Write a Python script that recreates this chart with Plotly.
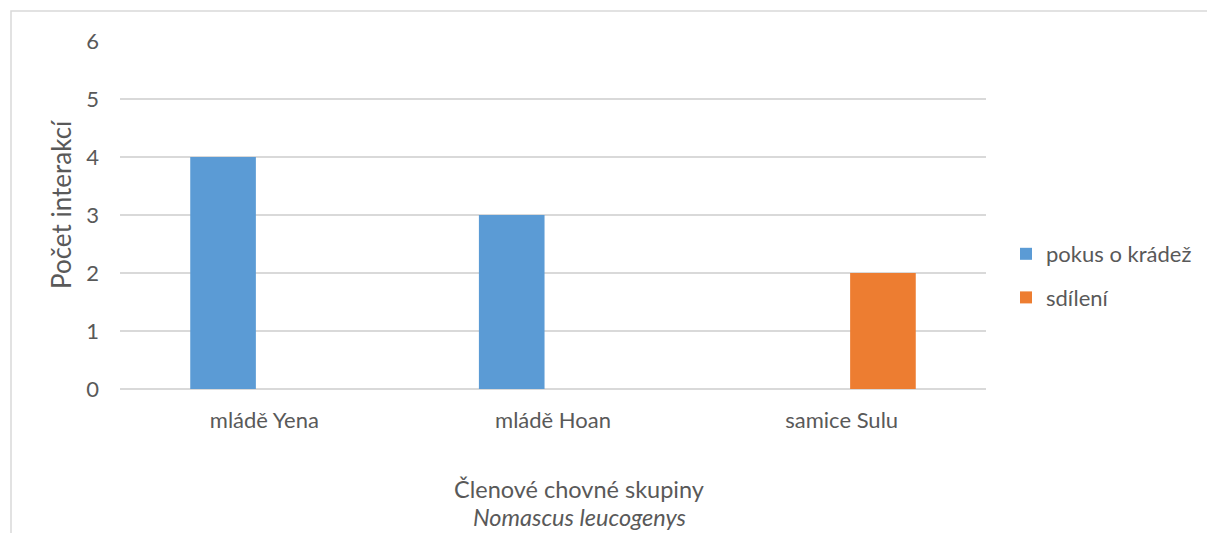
import plotly.graph_objects as go

categories = ["mládě Yena", "mládě Hoan", "samice Sulu"]
series_names = ["pokus o krádež", "sdílení"]
theft_values = [4, 3, 0]
sharing_values = [0, 0, 2]
y_ticks = [0, 1, 2, 3, 4, 5, 6]

W, H = 1207, 533
L, R, T, B = 120, 221, 41, 144
FONT = "Lato"
GREY = "#595959"
TICK_SIZE = 22

fig = go.Figure()
fig.add_trace(go.Bar(x=categories, y=theft_values, name=series_names[0], legendgroup="a",
                     marker=dict(color="#5B9BD5", line=dict(width=0))))
fig.add_trace(go.Bar(x=categories, y=sharing_values, name=series_names[1], legendgroup="b",
                     marker=dict(color="#ED7D31", line=dict(width=0))))

pw = W - L - R
ph = H - T - B

fig.update_layout(
    width=W, height=H,
    margin=dict(l=L, r=R, t=T, b=B, pad=0, autoexpand=False),
    paper_bgcolor="white", plot_bgcolor="white",
    barmode="group", bargap=0.428, bargroupgap=0.205,
    font=dict(family=FONT, size=TICK_SIZE, color=GREY),
    showlegend=True,
    legend=dict(x=(1006 - L) / pw, y=(H - B - 276) / ph, xanchor="left", yanchor="middle",
                font=dict(family=FONT, size=TICK_SIZE, color=GREY),
                traceorder="grouped", tracegroupgap=12, bgcolor="rgba(0,0,0,0)",
                itemwidth=30),
    xaxis=dict(showgrid=False, showline=False, zeroline=False, ticks="",
               tickfont=dict(family=FONT, size=TICK_SIZE, color=GREY), ticklabelstandoff=16),
    yaxis=dict(range=[0, 6], tickvals=y_ticks, showgrid=True, gridcolor="#D9D9D9", gridwidth=1.5,
               zeroline=True, zerolinecolor="#D9D9D9", zerolinewidth=1.5,
               showline=False, ticks="", tickfont=dict(family=FONT, size=TICK_SIZE, color=GREY),
               ticklabelstandoff=20),
)

# chart border (extends past the right and bottom edges)
fig.add_shape(type="rect", xref="paper", yref="paper",
              x0=(11 - L) / pw, x1=(W + 20 - L) / pw,
              y0=-(B + 20) / ph, y1=(H - B - 11) / ph,
              line=dict(color="#D9D9D9", width=1.5), fillcolor="rgba(0,0,0,0)", layer="below")

# axis titles
fig.add_annotation(xref="paper", yref="paper", x=(61 - L) / pw, y=(H - B - 205) / ph,
                   text="Počet interakcí", textangle=-90, showarrow=False,
                   font=dict(family=FONT, size=26, color=GREY), xanchor="center", yanchor="middle")
fig.add_annotation(xref="paper", yref="paper", x=(579 - L) / pw, y=(H - B - 489) / ph,
                   text="Členové chovné skupiny", showarrow=False,
                   font=dict(family=FONT, size=23.5, color=GREY), xanchor="center", yanchor="middle")
fig.add_annotation(xref="paper", yref="paper", x=(579 - L) / pw, y=(H - B - 517) / ph,
                   text="<i>Nomascus leucogenys</i>", showarrow=False,
                   font=dict(family=FONT, size=23.5, color=GREY), xanchor="center", yanchor="middle")

fig.write_html("out.html")
